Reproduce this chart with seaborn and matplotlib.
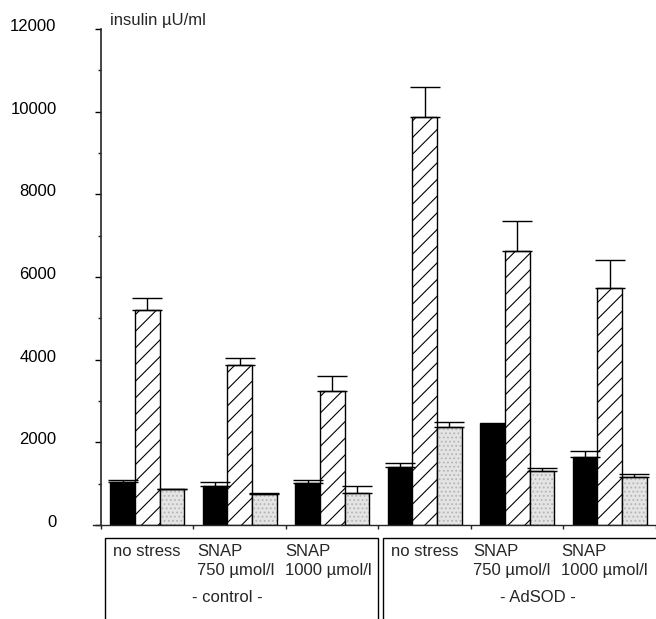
import numpy as np
import pandas as pd
import seaborn as sns
from matplotlib import pyplot as plt
from matplotlib.patches import Rectangle
from matplotlib.ticker import MultipleLocator
from matplotlib.transforms import ScaledTranslation

# insulin uU/ml per condition, three bar types per condition
conditions = ["ctrl no stress", "ctrl SNAP 750", "ctrl SNAP 1000",
              "AdSOD no stress", "AdSOD SNAP 750", "AdSOD SNAP 1000"]
series = ["solid", "hatched", "stippled"]

solid_vals = [1040, 940, 1020, 1400, 2460, 1650]
solid_err = [40, 90, 65, 100, 0, 135]
hatched_vals = [5200, 3860, 3240, 9860, 6620, 5730]
hatched_err = [300, 190, 370, 740, 730, 680]
stippled_vals = [860, 750, 780, 2370, 1300, 1160]
stippled_err = [15, 15, 160, 120, 80, 80]

errors = [solid_err, hatched_err, stippled_err]

# labels for the table under the axis
sub_labels = [("no stress", ""), ("SNAP", "750 \u00b5mol/l"), ("SNAP", "1000 \u00b5mol/l")]
group_labels = ["- control -", "- AdSOD -"]

df = pd.DataFrame({
    "condition": conditions * 3,
    "series": np.repeat(series, len(conditions)),
    "insulin": solid_vals + hatched_vals + stippled_vals,
})

sns.set_style("ticks")
plt.rcParams["font.family"] = ["Liberation Sans", "DejaVu Sans"]
plt.rcParams["hatch.linewidth"] = 0.8
FS = 12

W, H = 656, 619
fig = plt.figure(figsize=(W / 100, H / 100), dpi=100)
# x axis line starts a few px left of the y axis, as in the original
ax = fig.add_axes([93 / W, (H - 525) / H, (W - 93) / W, (525 - 29) / H])

sns.barplot(data=df, x="condition", y="insulin", hue="series", order=conditions,
            hue_order=series, palette=["black", "white", "#e4e4e4"], width=0.8,
            errorbar=None, legend=False, saturation=1, ax=ax)

for bar in ax.containers[0]:
    bar.set_edgecolor("black")
    bar.set_linewidth(1)
for bar in ax.containers[1]:
    bar.set_edgecolor("black")
    bar.set_linewidth(1)
    bar.set_hatch("//")
for bar in ax.containers[2]:
    bar.set_edgecolor("#b5b5b5")
    bar.set_linewidth(0)
    bar.set_hatch("....")
    ax.add_patch(Rectangle(bar.get_xy(), bar.get_width(), bar.get_height(),
                           fill=False, edgecolor="black", linewidth=1, zorder=3))

# upward error bars only
for cont, err in zip(ax.containers[:3], errors):
    xs = np.array([b.get_x() + b.get_width() / 2 for b in cont])
    ys = np.array([b.get_height() for b in cont])
    e = np.array(err, dtype=float)
    keep = e > 0
    ax.errorbar(xs[keep], ys[keep], yerr=[np.zeros(keep.sum()), e[keep]],
                fmt="none", ecolor="black", elinewidth=1, capsize=10.5, capthick=1, zorder=4)

ax.set_xlim(-0.586, 5.47)
ax.set_ylim(0, 12000)
ax.yaxis.set_major_locator(MultipleLocator(2000))
ax.yaxis.set_minor_locator(MultipleLocator(1000))
ax.tick_params(axis="y", which="major", length=4, width=1, pad=28, labelsize=FS, colors="black")
ax.tick_params(axis="y", which="minor", length=2, width=1)
ax.set_xticks(np.arange(-0.5, 6, 1.0))
ax.set_xticklabels([])
ax.tick_params(axis="x", length=3, width=1)
ax.set_xlabel("")
ax.set_ylabel("")
sns.despine(ax=ax)
ax.spines["left"].set_position(("data", -0.5))
ax.spines["left"].set_linewidth(1.2)
ax.spines["bottom"].set_linewidth(1)

# tick labels sit a little above their ticks in the original
shift = ScaledTranslation(0, 4 / 100, fig.dpi_scale_trans)
for lab in ax.get_yticklabels():
    lab.set_transform(lab.get_transform() + shift)

fig.text(110 / W, 1 - 20 / H, "insulin \u00b5U/ml", fontsize=FS, va="center", ha="left")

# table boxes below the axis
box_top = 538
box_kw = dict(fill=False, edgecolor="black", linewidth=1, transform=fig.transFigure, clip_on=False)
fig.add_artist(Rectangle((105 / W, -0.1), (378 - 105) / W, 0.1 + (H - box_top) / H, **box_kw))
fig.add_artist(Rectangle((383 / W, -0.1), 0.5, 0.1 + (H - box_top) / H, **box_kw))

col_x = [[113, 197, 285], [391, 473, 561]]
center_x = [227, 538]
for g in range(2):
    for (top, bottom), x in zip(sub_labels, col_x[g]):
        fig.text(x / W, 1 - 552 / H, top, fontsize=FS, va="center", ha="left")
        if bottom:
            fig.text(x / W, 1 - 570 / H, bottom, fontsize=FS, va="center", ha="left")
    fig.text(center_x[g] / W, 1 - 597 / H, group_labels[g], fontsize=FS, va="center", ha="center")

fig.savefig("out.png", dpi=100)
